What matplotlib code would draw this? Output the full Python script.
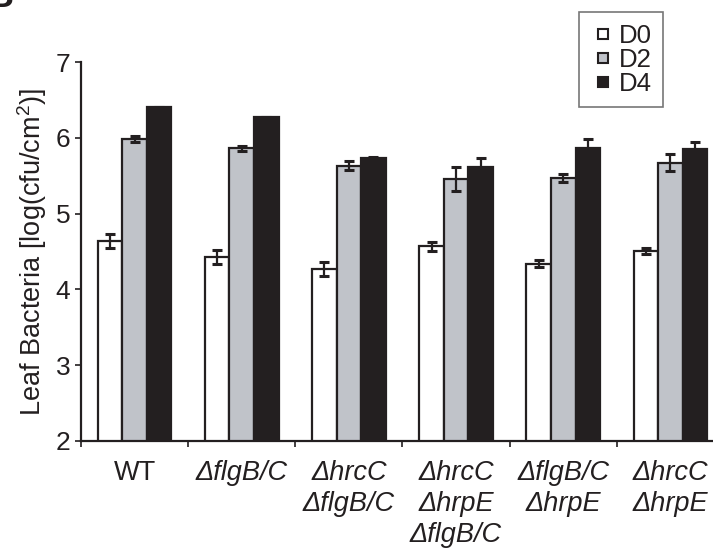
import numpy as np
import matplotlib
matplotlib.use('Agg')
import matplotlib.pyplot as plt
from matplotlib.lines import Line2D

plt.rcParams['font.family'] = ['Liberation Sans', 'DejaVu Sans']
plt.rcParams['mathtext.fontset'] = 'custom'
plt.rcParams['mathtext.rm'] = 'Liberation Sans'

strains = ['WT', r'ΔflgB/C', 'ΔhrcC\nΔflgB/C', 'ΔhrcC\nΔhrpE\nΔflgB/C',
           'ΔflgB/C\nΔhrpE', 'ΔhrcC\nΔhrpE']
days = ['D0', 'D2', 'D4']

d0 = [4.64, 4.43, 4.27, 4.57, 4.34, 4.51]
d2 = [5.98, 5.86, 5.63, 5.46, 5.47, 5.67]
d4 = [6.40, 6.27, 5.73, 5.61, 5.87, 5.85]
d0_err = [0.09, 0.09, 0.09, 0.06, 0.05, 0.04]
d2_err = [0.04, 0.03, 0.06, 0.16, 0.05, 0.11]
d4_err = [0.01, 0.005, 0.02, 0.12, 0.115, 0.09]

dark = '#231f20'
colors = ['white', '#c0c3c9', dark]

fig = plt.figure(figsize=(7.13, 5.48), dpi=100)
ax = fig.add_axes([81 / 713, 1 - 441 / 548, 643 / 713, 379 / 548])

x = np.arange(len(strains))
w = 0.229
for i, (vals, errs) in enumerate([(d0, d0_err), (d2, d2_err), (d4, d4_err)]):
    ax.bar(x + (i - 1) * w, vals, w, bottom=0, color=colors[i],
           edgecolor=dark, linewidth=1.6, label=days[i], zorder=2)
    ax.errorbar(x + (i - 1) * w, vals, yerr=errs, fmt='none', ecolor=dark,
                elinewidth=1.6, capsize=3.7, capthick=2.2, zorder=3)

ax.set_ylim(2, 7)
ax.set_xlim(-0.5, 5.5)
ax.set_yticks([2, 3, 4, 5, 6, 7])
ax.set_xticks(np.arange(-0.5, 6, 1))
ax.set_xticklabels([])
ax.tick_params(axis='both', direction='out', length=4, width=1.2,
               color=dark, labelsize=19, labelcolor=dark, pad=3.6)
for i, s in enumerate(strains):
    style = 'normal' if s == 'WT' else 'italic'
    ax.text(i, 2 - 19 / 75.8, s, ha='center', va='top', fontsize=19.5,
            style=style, color=dark, linespacing=1.25,
            transform=ax.transData)

for sp in ['top', 'right']:
    ax.spines[sp].set_visible(False)
for sp in ['left', 'bottom']:
    ax.spines[sp].set_linewidth(1.6)
    ax.spines[sp].set_color(dark)

ax.set_ylabel(r'Leaf Bacteria [log(cfu/cm$^2$)]', fontsize=19.5,
              color=dark, labelpad=5)

handles = [Line2D([], [], marker='s', linestyle='none', markersize=7,
                  markerfacecolor=c, markeredgecolor=dark,
                  markeredgewidth=1.5) for c in colors]
leg = fig.legend(handles, days, loc='upper left',
                 bbox_to_anchor=(579 / 713, 1 - 12 / 548), fontsize=18.5,
                 frameon=True, fancybox=False, handlelength=1.0,
                 handletextpad=0.1, labelspacing=0.0, borderpad=0.45,
                 borderaxespad=0)
leg.get_frame().set_edgecolor('#555555')
leg.get_frame().set_linewidth(1.2)
for t in leg.get_texts():
    t.set_color(dark)

fig.text(14 / 713, 1 - 7 / 548, 'B', ha='right', va='baseline',
         fontsize=26, weight='bold', color=dark)

fig.savefig('out.png', dpi=100)
